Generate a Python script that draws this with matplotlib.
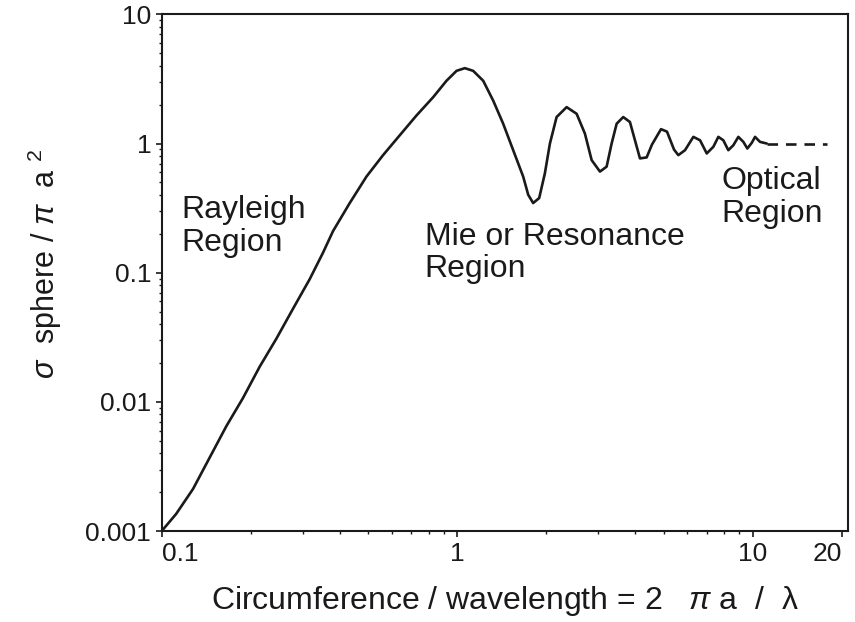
import matplotlib
matplotlib.use("Agg")
import matplotlib.pyplot as plt
from matplotlib.ticker import LogLocator, NullFormatter, FixedLocator, FixedFormatter

plt.rcParams['font.family'] = ['Liberation Sans', 'DejaVu Sans']
plt.rcParams['mathtext.fontset'] = 'custom'
plt.rcParams['mathtext.rm'] = 'Liberation Sans'
plt.rcParams['mathtext.it'] = 'Liberation Sans:italic'

# circumference / wavelength
size = [0.1, 0.112, 0.1277, 0.1454, 0.1656, 0.1884, 0.2147, 0.2445, 0.2782, 0.317,
        0.3516, 0.3801, 0.4329, 0.4931, 0.5612, 0.639, 0.7281, 0.8288, 0.9198, 0.9945,
        1.061, 1.132, 1.224, 1.323, 1.430, 1.546, 1.671, 1.738, 1.806, 1.893,
        1.979, 2.058, 2.168, 2.344, 2.534, 2.703, 2.848, 3.039, 3.201, 3.328,
        3.461, 3.643, 3.838, 3.991, 4.150, 4.372, 4.557, 4.889, 5.122, 5.409,
        5.594, 5.894, 6.289, 6.625, 6.981, 7.348, 7.640, 7.943, 8.258, 8.588,
        8.929, 9.284, 9.577, 9.911, 10.17, 10.57, 11.14]
# normalised radar cross section
sigma = [0.001, 0.00136, 0.00212, 0.00371, 0.0065, 0.01071, 0.01876, 0.0309, 0.0526, 0.0893,
         0.1431, 0.2101, 0.3463, 0.5551, 0.8132, 1.158, 1.649, 2.282, 3.061, 3.652,
         3.831, 3.652, 3.061, 2.149, 1.424, 0.8883, 0.5551, 0.4012, 0.3463, 0.3784,
         0.5886, 1.0, 1.603, 1.913, 1.699, 1.193, 0.7445, 0.6064, 0.6626, 1.0,
         1.424, 1.603, 1.467, 1.06, 0.767, 0.781, 0.982, 1.292, 1.236, 0.899,
         0.813, 0.888, 1.126, 1.06, 0.838, 0.943, 1.126, 1.06, 0.888, 0.97,
         1.126, 1.03, 0.915, 1.012, 1.126, 1.03, 1.0]
# optical limit (dashed)
optical_x = [11.14, 17.78]
optical_y = [1.0, 1.0]

xticks = [0.1, 1, 10, 20]
xtick_labels = ["0.1", "1", "10", "20"]
yticks = [0.001, 0.01, 0.1, 1, 10]
ytick_labels = ["0.001", "0.01", "0.1", "1", "10"]

ink = "#1a1a1a"

fig = plt.figure(figsize=(8.55, 6.22), dpi=100)
ax = fig.add_axes([0.189, 0.146, 0.803, 0.831])

ax.plot(size, sigma, color=ink, lw=1.9, solid_joinstyle="round", solid_capstyle="round")
ax.plot(optical_x, optical_y, color=ink, lw=1.9, ls=(0, (4, 3)))

ax.set_xscale("log")
ax.set_yscale("log")
ax.set_xlim(0.1, 21)
ax.set_ylim(0.001, 10)

ax.xaxis.set_major_locator(FixedLocator(xticks))
ax.xaxis.set_major_formatter(FixedFormatter(xtick_labels))
ax.xaxis.set_minor_locator(LogLocator(base=10, subs=range(2, 10)))
ax.xaxis.set_minor_formatter(NullFormatter())
ax.yaxis.set_major_locator(FixedLocator(yticks))
ax.yaxis.set_major_formatter(FixedFormatter(ytick_labels))
ax.yaxis.set_minor_locator(LogLocator(base=10, subs=range(2, 10)))
ax.yaxis.set_minor_formatter(NullFormatter())

ax.tick_params(which="major", direction="out", length=4, width=1.2, labelsize=19, colors=ink)
ax.tick_params(which="minor", direction="out", length=2.5, width=1, colors=ink)
xl = ax.get_xticklabels()
xl[0].set_ha("left")
xl[-1].set_ha("right")

for s in ax.spines.values():
    s.set_linewidth(1.5)
    s.set_color(ink)

ax.set_xlabel(r"Circumference / wavelength = 2   $\pi$ a  /  λ", fontsize=23, labelpad=13, color=ink)
fig.text(0.053, 0.576, r"$\sigma$  sphere / $\pi$  a $^{2}$", rotation=90, ha="center", va="center",
         fontsize=22, color=ink)

ax.text(0.029, 0.650, "Rayleigh\nRegion", transform=ax.transAxes, fontsize=23, va="top", ha="left", linespacing=1.1, color=ink)
ax.text(0.383, 0.598, "Mie or Resonance\nRegion", transform=ax.transAxes, fontsize=23, va="top", ha="left", linespacing=1.1, color=ink)
ax.text(0.816, 0.706, "Optical\nRegion", transform=ax.transAxes, fontsize=23, va="top", ha="left", linespacing=1.1, color=ink)

fig.savefig("out.png", dpi=100)
